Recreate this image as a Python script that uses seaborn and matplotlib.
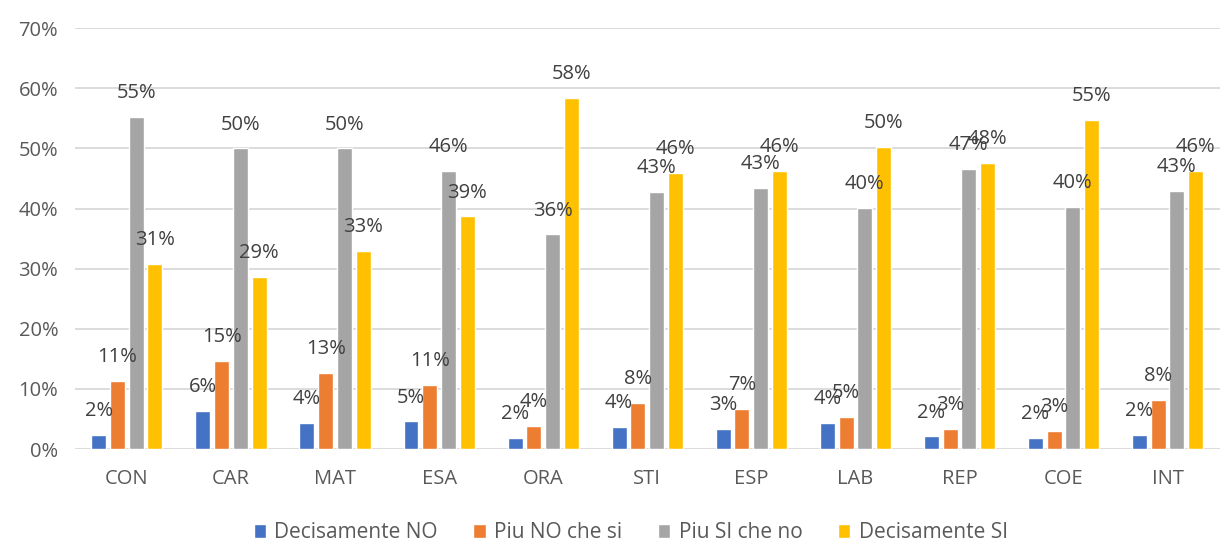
import matplotlib
matplotlib.use("Agg")
import matplotlib.pyplot as plt
import seaborn as sns
import pandas as pd
from matplotlib.ticker import PercentFormatter

categories = ["CON", "CAR", "MAT", "ESA", "ORA", "STI", "ESP", "LAB", "REP", "COE", "INT"]
series_names = ["Decisamente NO", "Piu NO che si", "Piu SI che no", "Decisamente SI"]
decisamente_no = [2.3, 6.4, 4.4, 4.6, 1.9, 3.7, 3.4, 4.3, 2.1, 1.8, 2.3]
piu_no = [11.3, 14.7, 12.6, 10.6, 3.8, 7.6, 6.7, 5.3, 3.4, 3.0, 8.2]
piu_si = [55.3, 50.0, 50.0, 46.2, 35.7, 42.7, 43.4, 40.1, 46.6, 40.3, 43.0]
decisamente_si = [30.8, 28.7, 33.0, 38.7, 58.4, 46.0, 46.3, 50.3, 47.6, 54.8, 46.2]
colors = ["#4472C4", "#ED7D31", "#A5A5A5", "#FFC000"]

rows = []
for name, vals in zip(series_names, [decisamente_no, piu_no, piu_si, decisamente_si]):
    for c, v in zip(categories, vals):
        rows.append({"cat": c, "serie": name, "val": v})
df = pd.DataFrame(rows)

sns.set_style("white")
plt.rcParams["font.family"] = ["Open Sans", "DejaVu Sans"]

fig = plt.figure(figsize=(12.27, 5.43), dpi=100)
ax = fig.add_axes([0.061, 0.173, 0.933, 0.775])
sns.barplot(data=df, x="cat", y="val", hue="serie", palette=colors, order=categories,
            hue_order=series_names, width=0.72, gap=0.2, ax=ax, legend=True, errorbar=None,
            saturation=1)

for cont in ax.containers:
    ax.bar_label(cont, labels=[f"{v:.0f}%" for v in cont.datavalues], padding=10,
                 fontsize=14.5, color="#404040")

ax.set_ylim(0, 70)
ax.set_xlim(-0.5, 10.5)
ax.set_yticks(range(0, 71, 10))
ax.yaxis.set_major_formatter(PercentFormatter(decimals=0))
ax.grid(axis="y", color="#D9D9D9", linewidth=1.3)
ax.set_axisbelow(True)
for s in ax.spines.values():
    s.set_visible(False)
ax.tick_params(axis="both", length=0, labelsize=14.5, labelcolor="#595959")
ax.tick_params(axis="x", pad=14)
ax.tick_params(axis="y", pad=12)
ax.set_xlabel("")
ax.set_ylabel("")

h, l = ax.get_legend_handles_labels()
ax.legend_.remove()
fig.legend(h, l, loc="lower center", bbox_to_anchor=(0.514, -0.035), ncol=4, frameon=False,
           fontsize=15, labelcolor="#595959", handlelength=0.6, handleheight=0.6,
           handletextpad=0.4, columnspacing=1.7)

fig.savefig("out.png", dpi=100)
